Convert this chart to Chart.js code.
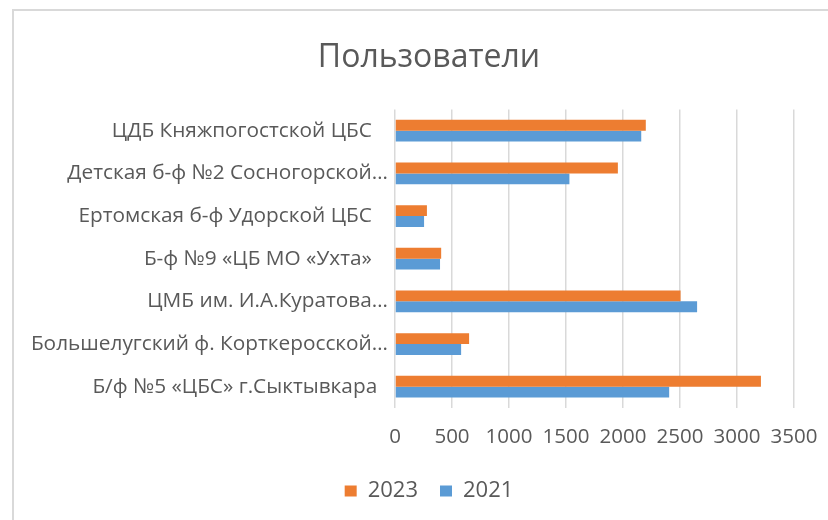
<!DOCTYPE html>
<html>
<head>
<meta charset="utf-8">
<script src="https://cdn.jsdelivr.net/npm/chart.js@4"></script>
<style>
  html, body { margin: 0; padding: 0; background: #fff; }
  #wrap { position: relative; width: 828px; height: 520px; overflow: hidden; }
  #frame { position: absolute; left: 12px; top: 9px; width: 900px; height: 600px;
           border-left: 2px solid #d9d9d9; border-top: 2px solid #d9d9d9; }
  canvas { position: absolute; left: 0; top: 0; }
</style>
</head>
<body>
<div id="wrap">
  <div id="frame"></div>
  <canvas id="usersChart" width="828" height="520"></canvas>
</div>
<script>
document.addEventListener('DOMContentLoaded', function () {
  const chartTitle = 'Пользователи';

  // categories, top to bottom (trailing spaces as in the source labels)
  const categories = [
    'ЦДБ Княжпогостской ЦБС   ',
    'Детская б-ф №2 Сосногорской…',
    'Ертомская б-ф Удорской ЦБС   ',
    'Б-ф №9 «ЦБ МО «Ухта»   ',
    'ЦМБ им. И.А.Куратова…',
    'Большелугский ф. Корткеросской…',
    'Б/ф №5 «ЦБС» г.Сыктывкара  '
  ];

  const users2023 = [2200, 1955, 280, 405, 2505, 650, 3210];
  const users2021 = [2160, 1530, 255, 395, 2650, 580, 2405];

  const seriesLabels = ['2023', '2021'];
  const xMax = 3500;
  const xStep = 500;

  const fontFamily = '"Open Sans", "Noto Sans", sans-serif';
  const textColor = '#595959';

  new Chart(document.getElementById('usersChart'), {
    type: 'bar',
    data: {
      labels: categories,
      datasets: [{
        label: seriesLabels[0],
        data: users2023,
        backgroundColor: '#ED7D31',
        borderWidth: 0
      }, {
        label: seriesLabels[1],
        data: users2021,
        backgroundColor: '#5B9BD5',
        borderWidth: 0
      }]
    },
    options: {
      indexAxis: 'y',
      responsive: false,
      animation: false,
      categoryPercentage: 0.51,
      barPercentage: 1,
      // negative right padding keeps the title centred where Excel put it
      layout: { padding: { top: 0, left: 20, right: -10, bottom: 8 } },
      plugins: {
        title: {
          display: true,
          text: chartTitle,
          color: textColor,
          font: { family: fontFamily, size: 32, weight: 'normal' },
          padding: { top: 39, bottom: 32 }
        },
        legend: {
          position: 'bottom',
          labels: {
            color: textColor,
            font: { family: fontFamily, size: 22 },
            boxWidth: 12,
            boxHeight: 11,
            padding: 22
          }
        },
        tooltip: { enabled: false }
      },
      scales: {
        x: {
          min: 0,
          max: xMax,
          ticks: {
            stepSize: xStep,
            color: textColor,
            font: { family: fontFamily, size: 20.5 },
            padding: 17,
            maxRotation: 0,
            callback: function (value) { return String(value); }
          },
          grid: { color: '#d9d9d9', lineWidth: 1.5, drawTicks: false },
          border: { display: false },
          afterFit: function (scale) {
            scale.height = 50;
            scale.paddingLeft = 0;
            scale.paddingRight = 34;
          }
        },
        y: {
          ticks: {
            color: textColor,
            font: { family: fontFamily, size: 20.8 },
            padding: 7,
            autoSkip: false
          },
          grid: { display: false, drawTicks: false },
          border: { display: false },
          afterFit: function (scale) { scale.width = 375; }
        }
      }
    }
  });
});
</script>
</body>
</html>
